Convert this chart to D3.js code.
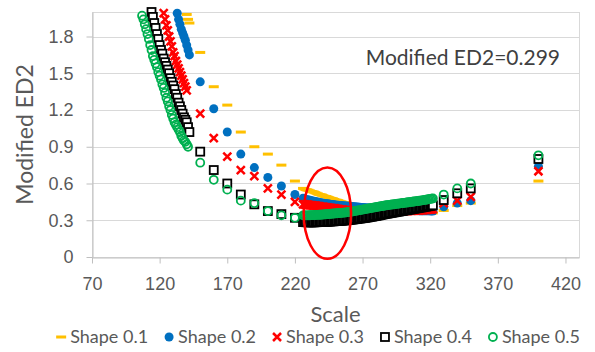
<!DOCTYPE html>
<html>
<head>
<meta charset="utf-8">
<script src="https://cdn.jsdelivr.net/npm/d3@7"></script>
<style>
  body { margin: 0; background: #fff; }
  svg { display: block; font-family: Lato, 'Noto Sans', sans-serif; }
  .axis text { fill: #595959; font-size: 18px; }
  .axis .domain, .axis line { stroke: #bfbfbf; }
</style>
</head>
<body>
<svg id="chart" width="595" height="352"></svg>
<script>
// scales shared by all series: discrete steps, the dense band, the tail
const STEP_SCALES = [150, 160, 170, 180, 190, 200, 210, 220];
const BAND_SCALES = [
  226, 227, 228, 229, 230, 231, 232, 233, 234, 235,
  236, 237, 238, 239, 240, 241, 242, 243, 244, 245,
  246, 247, 248, 249, 250, 251, 252, 253, 254, 255,
  256, 257, 258, 259, 260, 261, 262, 263, 264, 265,
  266, 267, 268, 269, 270, 271, 272, 273, 274, 275,
  276, 277, 278, 279, 280, 281, 282, 283, 284, 285,
  286, 287, 288, 289, 290, 291, 292, 293, 294, 295,
  296, 297, 298, 299, 300, 301, 302, 303, 304, 305,
  306, 307, 308, 309, 310, 311, 312, 313, 314, 315,
  316, 317, 318, 319, 320, 321, 322];
const TAIL_SCALES = [330, 340, 350, 400];

// Shape 0.1
const HEAD_SCALE_01 = [140, 141, 142];
const HEAD_ED2_01 = [1.98, 1.94, 1.91];
const STEP_ED2_01 = [1.67, 1.39, 1.24, 1.02, 0.90, 0.84, 0.75, 0.62];
const BAND_ED2_01 = [
  .560, .555, .550, .548, .545, .540, .535, .533, .530, .525,
  .520, .515, .510, .508, .505, .500, .495, .493, .490, .485,
  .480, .478, .475, .470, .465, .463, .460, .455, .450, .448,
  .445, .443, .440, .435, .430, .428, .425, .423, .420, .415,
  .410, .408, .405, .403, .400, .398, .395, .393, .390, .390,
  .390, .388, .385, .385, .385, .383, .380, .380, .380, .378,
  .375, .375, .375, .375, .375, .373, .370, .370, .370, .370,
  .370, .370, .370, .368, .365, .365, .365, .365, .365, .365,
  .365, .365, .365, .365, .365, .365, .365, .365, .365, .363,
  .360, .360, .360, .360, .360, .360, .360];
const TAIL_ED2_01 = [0.38, 0.42, 0.44, 0.62];

// Shape 0.2
const HEAD_SCALE_02 = [133, 134, 135, 136, 137, 138, 139, 140, 141, 142];
const HEAD_ED2_02 = [1.99, 1.94, 1.90, 1.86, 1.83, 1.80, 1.77, 1.73, 1.69, 1.65];
const STEP_ED2_02 = [1.43, 1.21, 1.02, 0.84, 0.73, 0.65, 0.58, 0.51];
const BAND_ED2_02 = [
  .480, .475, .470, .468, .465, .463, .460, .458, .455, .453,
  .450, .448, .445, .443, .440, .438, .437, .435, .434, .432,
  .430, .429, .428, .426, .425, .423, .422, .421, .420, .419,
  .418, .417, .416, .415, .414, .413, .412, .411, .410, .409,
  .408, .407, .406, .405, .404, .403, .402, .401, .400, .399,
  .398, .397, .396, .396, .395, .394, .393, .393, .392, .391,
  .390, .390, .389, .389, .388, .388, .387, .387, .386, .386,
  .385, .385, .384, .384, .383, .383, .382, .382, .381, .381,
  .380, .380, .380, .380, .379, .379, .378, .378, .378, .378,
  .377, .377, .377, .377, .376, .376, .375];
const TAIL_ED2_02 = [0.41, 0.44, 0.46, 0.74];

// Shape 0.3
const HEAD_SCALE_03 = [123, 124, 125, 126, 127, 128, 129, 130, 131, 132, 133, 134, 135,
  136, 137, 138, 139, 140];
const HEAD_ED2_03 = [1.99, 1.94, 1.89, 1.85, 1.80, 1.76, 1.72, 1.67, 1.64, 1.60, 1.57, 1.54,
  1.51, 1.48, 1.45, 1.42, 1.39, 1.36];
const STEP_ED2_03 = [1.17, 0.97, 0.82, 0.71, 0.66, 0.56, 0.51, 0.45];
const BAND_ED2_03 = [
  .430, .429, .428, .427, .425, .424, .422, .421, .420, .419,
  .417, .416, .414, .412, .410, .409, .407, .406, .404, .402,
  .400, .399, .397, .396, .394, .392, .390, .389, .387, .386,
  .384, .382, .380, .379, .377, .376, .374, .373, .372, .371,
  .370, .370, .369, .369, .368, .368, .367, .367, .367, .367,
  .367, .367, .367, .367, .367, .368, .368, .368, .368, .369,
  .369, .370, .370, .370, .370, .371, .371, .372, .372, .373,
  .373, .374, .374, .375, .375, .376, .376, .377, .377, .378,
  .378, .379, .379, .380, .380, .381, .381, .382, .382, .383,
  .384, .385, .386, .387, .388, .389, .390];
const TAIL_ED2_03 = [0.44, 0.46, 0.49, 0.70];

// Shape 0.4
const HEAD_SCALE_04 = [114, 115, 116, 117, 118, 119, 120, 121, 122, 123, 124, 125, 126, 127,
  128, 129, 130, 131, 132, 133, 134, 135, 136, 137, 138, 139, 140, 141, 142];
const HEAD_ED2_04 = [2.00, 1.96, 1.91, 1.87, 1.82, 1.78, 1.73, 1.69, 1.66, 1.62, 1.59, 1.56,
  1.53, 1.50, 1.46, 1.43, 1.40, 1.37, 1.33, 1.30, 1.26, 1.23, 1.20, 1.17, 1.14, 1.12, 1.10,
  1.06, 1.02];
const STEP_ED2_04 = [0.86, 0.71, 0.60, 0.51, 0.43, 0.375, 0.35, 0.32];
const BAND_ED2_04 = [
  .285, .285, .284, .284, .283, .283, .283, .283, .283, .284,
  .284, .285, .285, .286, .286, .287, .287, .288, .288, .289,
  .290, .291, .291, .292, .293, .294, .295, .296, .296, .297,
  .298, .299, .300, .301, .302, .304, .305, .307, .308, .310,
  .311, .313, .314, .316, .317, .319, .320, .322, .324, .326,
  .328, .330, .332, .334, .336, .338, .340, .343, .345, .348,
  .350, .352, .354, .356, .358, .360, .362, .364, .366, .368,
  .370, .372, .374, .376, .378, .380, .382, .384, .386, .388,
  .390, .392, .394, .396, .398, .400, .402, .404, .406, .408,
  .410, .412, .414, .416, .418, .420, .422];
const TAIL_ED2_04 = [0.465, 0.52, 0.56, 0.80];

// Shape 0.5
const HEAD_SCALE_05 = [107, 108, 109, 110, 111, 112, 113, 114, 115, 116, 117, 118, 119, 120,
  121, 122, 123, 124, 125, 126, 127, 128, 129, 130, 131, 132, 133, 134, 135, 136, 137, 138,
  139, 140, 141];
const HEAD_ED2_05 = [1.97, 1.94, 1.90, 1.86, 1.82, 1.78, 1.73, 1.69, 1.64, 1.61, 1.58, 1.55,
  1.51, 1.48, 1.45, 1.41, 1.38, 1.34, 1.30, 1.27, 1.23, 1.20, 1.16, 1.13, 1.10, 1.08, 1.06,
  1.04, 1.02, 0.99, 0.97, 0.95, 0.94, 0.92, 0.90];
const STEP_ED2_05 = [0.77, 0.63, 0.55, 0.46, 0.44, 0.375, 0.34, 0.32];
const BAND_ED2_05 = [
  .340, .340, .340, .340, .340, .341, .342, .342, .342, .343,
  .344, .344, .345, .345, .346, .347, .348, .349, .350, .351,
  .352, .353, .354, .355, .356, .357, .358, .359, .360, .361,
  .362, .363, .365, .366, .368, .369, .371, .373, .375, .377,
  .379, .381, .383, .385, .387, .389, .391, .393, .395, .397,
  .399, .401, .403, .405, .407, .409, .411, .413, .415, .417,
  .419, .421, .423, .424, .426, .427, .429, .430, .432, .433,
  .435, .436, .438, .439, .441, .442, .444, .445, .447, .448,
  .450, .451, .453, .454, .456, .457, .459, .460, .462, .464,
  .466, .468, .470, .472, .474, .476, .478];
const TAIL_ED2_05 = [0.51, 0.56, 0.60, 0.83];

const SERIES_NAMES = ['Shape 0.1', 'Shape 0.2', 'Shape 0.3', 'Shape 0.4', 'Shape 0.5'];
const X_TICKS = [70, 120, 170, 220, 270, 320, 370, 420];
const Y_TICKS = [0, 0.3, 0.6, 0.9, 1.2, 1.5, 1.8];
const ANNOTATION = 'Modified ED2=0.299';
// the red ring drawn round the minimum region
const FOCUS_SCALE = [226.5, 261.5];
const FOCUS_ED2 = [-0.015, 0.73];

const HEADS = [
  [HEAD_SCALE_01, HEAD_ED2_01], [HEAD_SCALE_02, HEAD_ED2_02], [HEAD_SCALE_03, HEAD_ED2_03],
  [HEAD_SCALE_04, HEAD_ED2_04], [HEAD_SCALE_05, HEAD_ED2_05]];
const STEPS = [STEP_ED2_01, STEP_ED2_02, STEP_ED2_03, STEP_ED2_04, STEP_ED2_05];
const BANDS = [BAND_ED2_01, BAND_ED2_02, BAND_ED2_03, BAND_ED2_04, BAND_ED2_05];
const TAILS = [TAIL_ED2_01, TAIL_ED2_02, TAIL_ED2_03, TAIL_ED2_04, TAIL_ED2_05];

const COLORS = ['#FFC000', '#0070C0', '#FF0000', '#000000', '#00B050'];
const MARKERS = ['dash', 'dot', 'cross', 'square', 'ring'];

const PLOT = {left: 92, right: 579, top: 12, bottom: 257};

function pairs(scales, values)
{
    return scales.map((s, i) => [s, values[i]]);
}

const series = SERIES_NAMES.map((name, k) => ({
    name,
    color: COLORS[k],
    marker: MARKERS[k],
    points: pairs(HEADS[k][0], HEADS[k][1])
      .concat(pairs(STEP_SCALES, STEPS[k]))
      .concat(pairs(BAND_SCALES, BANDS[k]))
      .concat(pairs(TAIL_SCALES, TAILS[k])),
}));

const svg = d3.select('#chart');

const x = d3.scaleLinear()
  .domain([70, 430])
  .range([PLOT.left, PLOT.right]);
const y = d3.scaleLinear()
  .domain([0, 2])
  .range([PLOT.bottom, PLOT.top]);

// gridlines + plot border
svg.append('g')
  .selectAll('line')
  .data(Y_TICKS.filter(d => d > 0))
  .join('line')
    .attr('x1', PLOT.left)
    .attr('x2', PLOT.right)
    .attr('y1', d => Math.round(y(d)) + 0.5)
    .attr('y2', d => Math.round(y(d)) + 0.5)
    .attr('stroke', '#d9d9d9');

svg.append('rect')
  .attr('x', PLOT.left + 0.5)
  .attr('y', PLOT.top + 0.5)
  .attr('width', PLOT.right - PLOT.left)
  .attr('height', PLOT.bottom - PLOT.top)
  .attr('fill', 'none')
  .attr('stroke', '#d9d9d9');

svg.append('g')
  .attr('class', 'axis')
  .attr('transform', `translate(0,${PLOT.bottom + 0.5})`)
  .call(d3.axisBottom(x).tickValues(X_TICKS).tickSizeInner(6).tickSizeOuter(0).tickPadding(14));

svg.append('g')
  .attr('class', 'axis')
  .attr('transform', `translate(${PLOT.left + 0.5},0)`)
  .call(d3.axisLeft(y).tickValues(Y_TICKS).tickSizeInner(6).tickSizeOuter(0).tickPadding(13)
    .tickFormat(d => d === 0 ? '0' : d.toFixed(1)))
  .call(g => g.select('.domain').attr('stroke', '#d9d9d9'));

svg.selectAll('.axis text').attr('font-family', null).attr('font-size', null);

function drawMarker(sel, kind, color, px, py)
{
    if (kind === 'dash') {
        sel.append('rect')
          .attr('x', px - 5).attr('y', py - 1.5)
          .attr('width', 10).attr('height', 3)
          .attr('fill', color);
    } else if (kind === 'dot') {
        sel.append('circle')
          .attr('cx', px).attr('cy', py).attr('r', 4.5)
          .attr('fill', color);
    } else if (kind === 'cross') {
        const h = 4;
        sel.append('path')
          .attr('d', `M${px - h},${py - h}L${px + h},${py + h}M${px - h},${py + h}L${px + h},${py - h}`)
          .attr('stroke', color).attr('stroke-width', 2.5).attr('fill', 'none');
    } else if (kind === 'square') {
        sel.append('rect')
          .attr('x', px - 4).attr('y', py - 4)
          .attr('width', 8).attr('height', 8)
          .attr('fill', '#fff').attr('stroke', color).attr('stroke-width', 1.8);
    } else {
        sel.append('circle')
          .attr('cx', px).attr('cy', py).attr('r', 4)
          .attr('fill', 'none').attr('stroke', color).attr('stroke-width', 1.8);
    }
}

const marks = svg.append('g');
series.forEach(s => {
    const g = marks.append('g');
    s.points.forEach(([sc, v]) => drawMarker(g, s.marker, s.color, x(sc), y(v)));
});

// red ellipse
svg.append('ellipse')
  .attr('cx', (x(FOCUS_SCALE[0]) + x(FOCUS_SCALE[1])) / 2)
  .attr('cy', (y(FOCUS_ED2[0]) + y(FOCUS_ED2[1])) / 2)
  .attr('rx', (x(FOCUS_SCALE[1]) - x(FOCUS_SCALE[0])) / 2)
  .attr('ry', (y(FOCUS_ED2[0]) - y(FOCUS_ED2[1])) / 2)
  .attr('fill', 'none')
  .attr('stroke', '#FF0000')
  .attr('stroke-width', 2.5);

svg.append('text')
  .attr('x', 560)
  .attr('y', 65)
  .attr('text-anchor', 'end')
  .attr('font-size', 21)
  .attr('fill', '#404040')
  .text(ANNOTATION);

svg.append('text')
  .attr('transform', `translate(33,${(PLOT.top + PLOT.bottom) / 2}) rotate(-90)`)
  .attr('text-anchor', 'middle')
  .attr('font-size', 23)
  .attr('fill', '#595959')
  .text('Modified ED2');

svg.append('text')
  .attr('x', (PLOT.left + PLOT.right) / 2)
  .attr('y', 322)
  .attr('text-anchor', 'middle')
  .attr('font-size', 22)
  .attr('fill', '#595959')
  .text('Scale');

// legend
const legend = svg.append('g');
let cursor = 0;
series.forEach(s => {
    const item = legend.append('g').attr('transform', `translate(${cursor},0)`);
    drawMarker(item, s.marker, s.color, 5, 0);
    const t = item.append('text')
      .attr('x', 14)
      .attr('y', 6)
      .attr('font-size', 18)
      .attr('fill', '#595959')
      .text(s.name);
    cursor += 14 + t.node().getComputedTextLength() + 16;
});
cursor -= 16;
legend.attr('transform', `translate(${318 - cursor / 2},337)`);
</script>
</body>
</html>
